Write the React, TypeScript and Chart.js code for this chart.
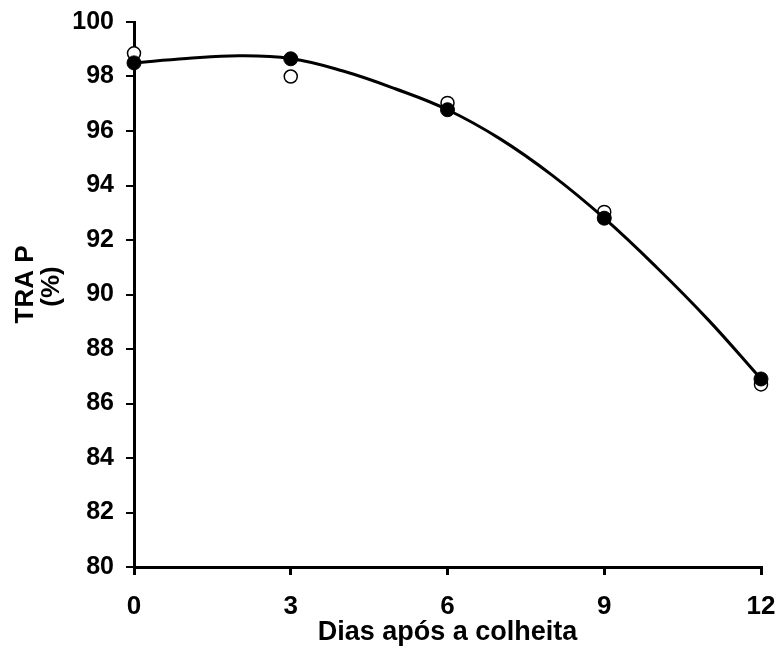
import React, { useEffect, useRef } from 'react';
import { Chart, registerables } from 'chart.js';

Chart.register(...registerables);

const days = [0, 3, 6, 9, 12];
const openValues = [98.85, 98.0, 97.03, 93.03, 86.7];
const filledValues = [98.5, 98.65, 96.78, 92.8, 86.9];
const curveDays = [0, 1, 2, 3, 4, 5, 6, 7, 8, 9, 10, 11, 12];
const curveValues = [98.5, 98.66, 98.76, 98.66, 98.2, 97.55, 96.78, 95.72, 94.38, 92.8, 91.0, 89.05, 86.9];
const xTicks = [0, 3, 6, 9, 12];
const yTicks = [80, 82, 84, 86, 88, 90, 92, 94, 96, 98, 100];
const xTitle = 'Dias após a colheita';
const yTitle = ['TRA P', '(%)'];

const FONT = '"Liberation Sans", Arial, sans-serif';

const yTitlePlugin = {
  id: 'yTitlePlugin',
  afterDraw(chart: any) {
    const ctx = chart.ctx;
    const area = chart.chartArea;
    const cy = (area.top + area.bottom) / 2 - 10;
    ctx.save();
    ctx.translate(0, cy);
    ctx.rotate(-Math.PI / 2);
    ctx.fillStyle = '#000';
    ctx.font = `bold 26px ${FONT}`;
    ctx.textAlign = 'center';
    ctx.textBaseline = 'middle';
    ctx.fillText(yTitle[0], 0, 26);
    ctx.fillText(yTitle[1], -2, 52);
    ctx.restore();
  },
};

export default function App() {
  const ref = useRef<HTMLCanvasElement | null>(null);

  useEffect(() => {
    if (!ref.current) return;
    const chart = new Chart(ref.current, {
      type: 'scatter',
      plugins: [yTitlePlugin],
      data: {
        datasets: [
          {
            label: 'filled',
            data: days.map((d, i) => ({ x: d, y: filledValues[i] })),
            backgroundColor: '#000',
            borderColor: '#000',
            pointRadius: 7,
            borderWidth: 1,
            showLine: false,
            order: 0,
            clip: false as any,
          },
          {
            label: 'fit',
            type: 'line' as any,
            data: curveDays.map((d, i) => ({ x: d, y: curveValues[i] })),
            borderColor: '#000',
            backgroundColor: '#000',
            borderWidth: 3,
            pointRadius: 0,
            tension: 0.4,
            fill: false,
            order: 1,
            clip: false as any,
          },
          {
            label: 'open',
            data: days.map((d, i) => ({ x: d, y: openValues[i] })),
            backgroundColor: '#fff',
            borderColor: '#000',
            pointRadius: 6.5,
            borderWidth: 1.5,
            showLine: false,
            order: 2,
            clip: false as any,
          },
        ],
      },
      options: {
        animation: false,
        responsive: false,
        maintainAspectRatio: false,
        layout: { padding: { top: 22, right: 20, left: 0, bottom: 0 } },
        plugins: {
          legend: { display: false },
          tooltip: { enabled: false },
        },
        scales: {
          x: {
            type: 'linear',
            min: 0,
            max: 12,
            afterBuildTicks: (s: any) => {
              s.ticks = xTicks.map((v) => ({ value: v }));
            },
            afterFit: (s: any) => {
              s.height = 80;
              s.paddingLeft = 0;
              s.paddingRight = 0;
            },
            border: { display: true, color: '#000', width: 3 },
            grid: {
              display: true,
              drawOnChartArea: false,
              drawTicks: true,
              tickLength: 8,
              color: '#000',
              lineWidth: 3,
            },
            ticks: {
              color: '#000',
              padding: 16,
              maxRotation: 0,
              font: { family: FONT, size: 26, weight: 'bold' },
            },
            title: {
              display: true,
              text: xTitle,
              color: '#000',
              padding: { top: 0, bottom: 0 },
              font: { family: FONT, size: 27, weight: 'bold', lineHeight: 1.1 },
            },
          },
          y: {
            type: 'linear',
            min: 80,
            max: 100,
            afterBuildTicks: (s: any) => {
              s.ticks = yTicks.map((v) => ({ value: v }));
            },
            afterFit: (s: any) => {
              s.width = 134;
              s.paddingTop = 0;
              s.paddingBottom = 0;
            },
            border: { display: true, color: '#000', width: 3 },
            grid: {
              display: true,
              drawOnChartArea: false,
              drawTicks: true,
              tickLength: 8,
              color: '#000',
              lineWidth: 2,
            },
            ticks: {
              color: '#000',
              padding: 12,
              font: { family: FONT, size: 25, weight: 'bold' },
            },
            title: { display: false },
          },
        },
      },
    });
    return () => chart.destroy();
  }, []);

  return (
    <div style={{ position: 'fixed', left: 0, top: 0, width: 781, height: 647, background: '#fff' }}>
      <canvas ref={ref} width={781} height={647} style={{ width: 781, height: 647 }} />
    </div>
  );
}
